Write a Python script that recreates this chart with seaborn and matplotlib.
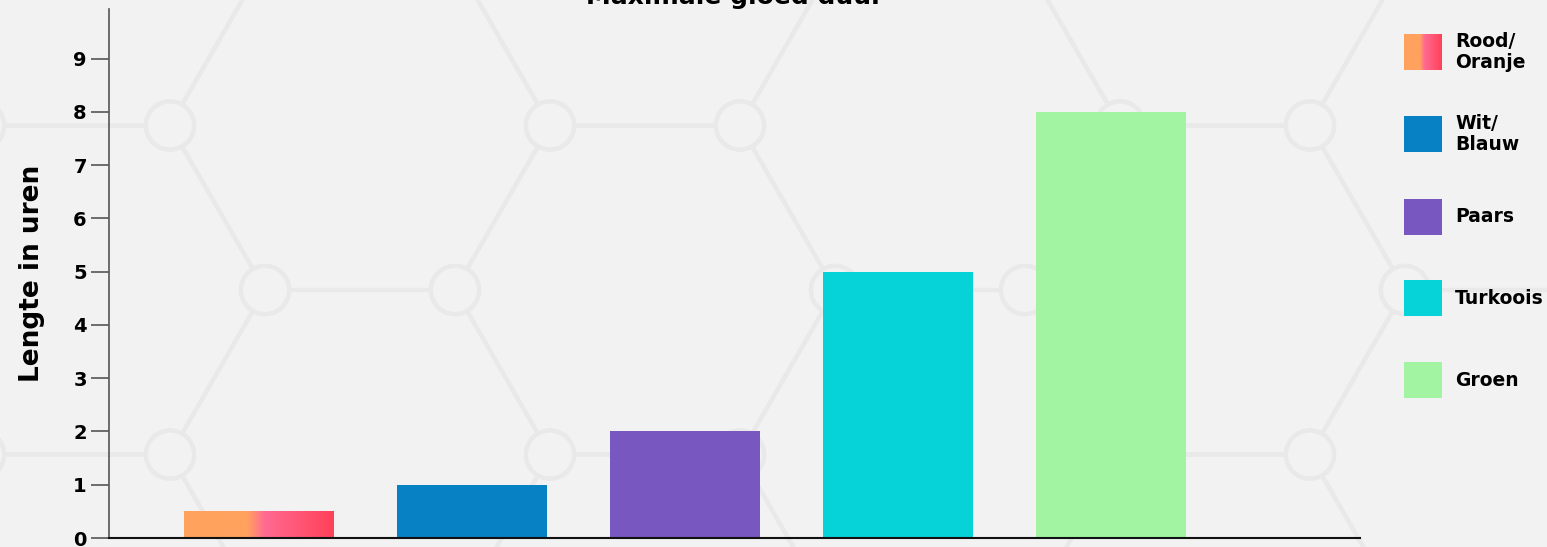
import numpy as np
import pandas as pd
import matplotlib
matplotlib.use("Agg")
import matplotlib.pyplot as plt
import seaborn as sns
from matplotlib.colors import LinearSegmentedColormap
from matplotlib.patches import RegularPolygon, Circle, Rectangle

# data
categories = ["Rood/\nOranje", "Wit/\nBlauw", "Paars", "Turkoois", "Groen"]
hours = [0.5, 1, 2, 5, 8]
colors = ["#FF9F5E", "#0880C4", "#7857C0", "#06D3D8", "#A2F4A2"]
gradient_stops = [(0.0, "#FFA25E"), (0.42, "#FFA25E"), (0.54, "#FF6A92"), (1.0, "#FF4158")]
y_ticks = list(range(0, 10))

sns.set_theme(style="white")
plt.rcParams["font.family"] = ["DejaVu Sans"]
plt.rcParams["font.weight"] = "bold"
plt.rcParams["text.color"] = "black"
plt.rcParams["axes.labelcolor"] = "black"
plt.rcParams["ytick.labelcolor"] = "black"

W, H = 1547, 547
fig = plt.figure(figsize=(W / 100, H / 100), dpi=100)
bg = "#F2F2F2"
fig.patch.set_facecolor(bg)

# background hexagon pattern
bga = fig.add_axes([0, 0, 1, 1], zorder=0)
bga.set_xlim(0, W)
bga.set_ylim(H, 0)
bga.axis("off")
a = 190
h = a * np.sqrt(3) / 2
line_col = "#E9E9E9"
for i in range(-2, 12):
    for j in range(-2, 4):
        cx = 75 + 1.5 * a * i
        cy = 290 + 2 * h * j + (h if i % 2 else 0)
        bga.add_patch(RegularPolygon((cx, cy), 6, radius=a, orientation=np.pi / 6,
                                     fill=False, ec=line_col, lw=3))
        for k in range(6):
            ang = np.pi / 3 * k
            bga.add_patch(Circle((cx + a * np.cos(ang), cy + a * np.sin(ang)), 24,
                                 fc=bg, ec=line_col, lw=3, zorder=3))

# main chart
ax = fig.add_axes([109 / W, 9 / H, (1360 - 109) / W, (538 - 9) / H], zorder=1)
ax.set_facecolor("none")
df = pd.DataFrame({"kleur": categories, "uren": hours})
sns.barplot(data=df, x="kleur", y="uren", hue="kleur", palette=dict(zip(categories, colors)),
            width=0.704, legend=False, saturation=1, linewidth=0, ax=ax)

grad_cmap = LinearSegmentedColormap.from_list("rood", gradient_stops)
grad = np.linspace(0, 1, 256).reshape(1, -1)
first = min(ax.patches, key=lambda p: p.get_x())
x0, bw, bh = first.get_x(), first.get_width(), first.get_height()
first.set_facecolor("none")
im = ax.imshow(grad, cmap=grad_cmap, extent=[x0, x0 + bw, 0, bh], aspect="auto", zorder=2)
im.set_clip_path(first)

ax.set_xlim(-0.704, 5.17)
ax.set_ylim(0, 9.93)
ax.set_yticks(y_ticks)
ax.set_xticks([])
ax.set_xlabel("")
ax.set_ylabel("Lengte in uren", fontsize=19, fontweight="bold", labelpad=20)
ax.set_title("Maximale gloed duur", fontsize=18, fontweight="bold", pad=-1)
ax.tick_params(axis="y", length=13, width=1.2, color="#555555", pad=3, labelsize=14, left=True)
for lab in ax.get_yticklabels():
    lab.set_fontweight("bold")
for s in ["top", "right"]:
    ax.spines[s].set_visible(False)
ax.spines["left"].set_color("#555555")
ax.spines["left"].set_linewidth(1.2)
ax.spines["bottom"].set_color("#111111")
ax.spines["bottom"].set_linewidth(1.5)

# legend
leg_y = [52, 134, 217, 298, 380]
for i, (lab, col) in enumerate(zip(categories, colors)):
    yc = leg_y[i]
    if i == 0:
        lax = fig.add_axes([1404 / W, 1 - (yc + 18) / H, 38 / W, 36 / H], zorder=2)
        lax.imshow(grad, cmap=grad_cmap, aspect="auto")
        lax.axis("off")
    else:
        fig.add_artist(Rectangle((1404 / W, 1 - (yc + 18) / H), 38 / W, 36 / H,
                                 transform=fig.transFigure, fc=col, ec="none", zorder=2))
    fig.text(1455 / W, 1 - yc / H, lab, fontsize=13.5, fontweight="bold", va="center",
             ha="left", linespacing=1.15, zorder=3)

fig.savefig("out.png", dpi=100, facecolor=fig.get_facecolor())
